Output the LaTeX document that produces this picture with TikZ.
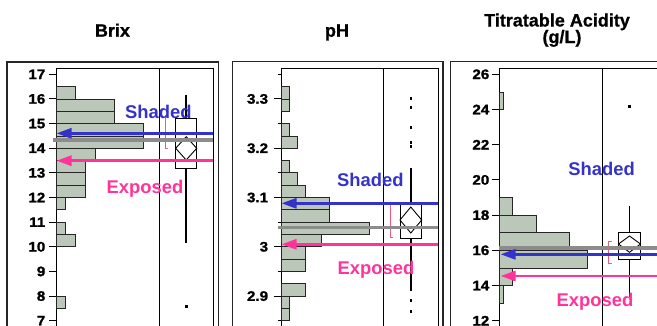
\documentclass[tikz,border=0pt]{standalone}
\usepackage{fontspec}
\setmainfont{Liberation Sans}
\newfontfamily\heavyfont[FakeBold=1.3,FakeStretch=1.1]{Liberation Sans Bold}
\newfontfamily\titlefont[FakeBold=0.8]{Liberation Sans Bold}
\usetikzlibrary{arrows.meta}
\definecolor{barfill}{RGB}{187,200,185}
\definecolor{shadeblue}{RGB}{51,51,204}
\definecolor{exppink}{RGB}{255,51,153}
\definecolor{meangray}{RGB}{140,140,140}
\definecolor{brkred}{RGB}{240,90,120}
\tikzset{
  frameline/.style={draw=black!85, line width=1.2pt},
  plotline/.style={draw=black, line width=0.9pt},
  histbar/.style={fill=barfill, draw=black!85, line width=0.8pt},
  tickline/.style={draw=black, line width=0.9pt},
  ticklabel/.style={font=\fontsize{13.8}{14}\heavyfont, anchor=east, inner sep=0pt},
  paneltitle/.style={font=\fontsize{18}{20}\titlefont, anchor=base, inner sep=0pt},
  shadearrow/.style={draw=shadeblue, line width=2.8pt, -{Triangle[length=15pt,width=10pt]}},
  exposearrow/.style={draw=exppink, line width=2.8pt, -{Triangle[length=15pt,width=10pt]}},
  meanline/.style={draw=meangray, line width=3.2pt},
  shadelabel/.style={text=shadeblue, font=\fontsize{18.4}{18.4}\selectfont\bfseries, anchor=base, inner sep=0pt},
  exposelabel/.style={text=exppink, font=\fontsize{18.4}{18.4}\selectfont\bfseries, anchor=base, inner sep=0pt},
  boxline/.style={draw=black, line width=0.9pt, fill=white},
  diamondline/.style={draw=black, line width=0.9pt},
  whiskerline/.style={draw=black, line width=2pt},
  thinwhisker/.style={draw=black, line width=1pt},
  bracketline/.style={draw=brkred, line width=0.8pt},
  outlierdot/.style={fill=black},
}
\begin{document}
\begin{tikzpicture}[x=1pt,y=-1pt]
\useasboundingbox (0,0) rectangle (657,325);
\clip (0,0) rectangle (657,325);

% ---------------- titles ----------------
\node[paneltitle] (tbrix) at (112.5,36.7) {Brix};
\node[paneltitle] (tph) at (337,36.7) {pH};
\node[paneltitle] (tta1) at (557,26.5) {Titratable Acidity};
\node[paneltitle] (tta2) at (562,43) {(g/L)};

% ================= Panel 1: Brix =================
\draw[frameline] (7,62) rectangle (218.3,345);
\draw[plotline] (56,68) rectangle (213.3,345);
\foreach \lo/\hi/\c in {16/16.5/2,15.5/16/6,15/15.5/6,14.5/15/9,14/14.5/9,13.5/14/4,13/13.5/3,12.5/13/3,12/12.5/3,11.5/12/1,10.5/11/1,10/10.5/2,7.5/8/1}{
  \path[histbar] (56,{74.3+(17-\hi)*24.64}) rectangle ({56+\c*9.75},{74.3+(17-\lo)*24.64});
}
\draw[plotline] (159,68) -- (159,345);
\foreach \v in {7,...,17}{
  \draw[tickline] (49,{74.3+(17-\v)*24.64}) -- (56,{74.3+(17-\v)*24.64});
  \node[ticklabel] (bl\v) at (45.5,{74.3+(17-\v)*24.64}) {\v};
}
% box plot
\draw[whiskerline] (186.2,94.5) -- (186.2,118.3);
\draw[whiskerline] (186.2,168.3) -- (186.2,242.7);
\draw[boxline] (175.7,118.3) rectangle (196.7,168.3);
\draw[diamondline] (186.2,136.7) -- (196.7,148.3) -- (186.2,160) -- (175.7,148.3) -- cycle;
\fill[outlierdot] (184.7,304.5) rectangle (187.7,307.5);
\draw[bracketline] (168.3,115) -- (165,115) -- (165,148.3) -- (168.3,148.3);
% lines and arrows
\draw[meanline] (53,140) -- (212.5,140);
\coordinate (bS1) at (213.3,133.3); \coordinate (bS0) at (56.5,133.3);
\coordinate (bE1) at (213.3,160.7); \coordinate (bE0) at (56.5,160.7);
\draw[shadearrow] (bS1) -- (bS0);
\draw[exposearrow] (bE1) -- (bE0);
\node[shadelabel] (bshade) at (158.3,118.3) {Shaded};
\node[exposelabel] (bexp) at (145,193.3) {Exposed};

% ================= Panel 2: pH =================
\draw[frameline] (232.3,61.7) rectangle (443,345);
\draw[plotline] (281,68.3) rectangle (438,345);
\foreach \lo/\hi/\c in {3.3/3.325/1,3.275/3.3/1,3.225/3.25/1,3.2/3.225/2,3.15/3.175/1,3.125/3.15/2,3.1/3.125/3,3.075/3.1/6,3.05/3.075/6,3.025/3.05/11,3.0/3.025/5,2.975/3.0/3,2.95/2.975/3,2.9/2.925/3,2.875/2.9/1,2.85/2.875/1}{
  \path[histbar] (281,{74.3+(3.35-\hi)*492.8}) rectangle ({281+\c*8},{74.3+(3.35-\lo)*492.8});
}
\draw[plotline] (383.3,68.3) -- (383.3,345);
\foreach \v/\t [count=\i] in {3.3/3.3,3.2/3.2,3.1/3.1,3.0/3,2.9/2.9}{
  \draw[tickline] (274,{74.3+(3.35-\v)*492.8}) -- (281,{74.3+(3.35-\v)*492.8});
  \node[ticklabel] (pl\i) at (268.3,{74.3+(3.35-\v)*492.8}) {\t};
}
\foreach \v in {3.35,3.25,3.15,3.05,2.95,2.85}{
  \draw[tickline] (277.8,{74.3+(3.35-\v)*492.8}) -- (281,{74.3+(3.35-\v)*492.8});
}
% box plot
\draw[whiskerline] (410.8,168.3) -- (410.8,204.3);
\draw[whiskerline] (410.8,238.5) -- (410.8,291);
\draw[boxline] (400,204.3) rectangle (421.7,238.5);
\draw[diamondline] (410.8,207) -- (421.7,220) -- (410.8,233) -- (400,220) -- cycle;
\foreach \yy in {98.3,107.7,127.7,142.3,146.7,300,311}{
  \fill[outlierdot] (409.5,{\yy-1.5}) rectangle (412.1,{\yy+1.5});
}
\draw[bracketline] (393.3,204.3) -- (390,204.3) -- (390,237.7) -- (393.3,237.7);
\draw[meanline] (278,227.3) -- (438,227.3);
\coordinate (pS1) at (438,203.3); \coordinate (pS0) at (281.5,203.3);
\coordinate (pE1) at (438,244.3); \coordinate (pE0) at (281.5,244.3);
\draw[shadearrow] (pS1) -- (pS0);
\draw[exposearrow] (pE1) -- (pE0);
\node[shadelabel] (pshade) at (370.3,186.7) {Shaded};
\node[exposelabel] (pexp) at (376,274) {Exposed};

% ================= Panel 3: Titratable Acidity =================
\draw[frameline] (450.7,61.7) rectangle (680,345);
\draw[plotline] (499.3,68.3) rectangle (675,345);
\foreach \lo/\hi/\w in {24/25/4,18/19/13.3,17/18/37.3,16/17/69.7,15/16/88.3,14/15/13.3,13/14/4}{
  \path[histbar] (499.3,{74.3+(26-\hi)*17.6}) rectangle ({499.3+\w},{74.3+(26-\lo)*17.6});
}
\draw[plotline] (602,68.3) -- (602,345);
\foreach \v in {12,14,...,26}{
  \draw[tickline] (491.8,{74.3+(26-\v)*17.6}) -- (499.3,{74.3+(26-\v)*17.6});
  \node[ticklabel] (al\v) at (489.5,{74.3+(26-\v)*17.6}) {\v};
}
% box plot
\draw[thinwhisker] (629.5,206) -- (629.5,232.5);
\draw[thinwhisker] (629.5,259.5) -- (629.5,296.7);
\draw[boxline] (618.5,232.5) rectangle (640.5,259.5);
\draw[diamondline] (629.5,236) -- (640.5,244) -- (629.5,252.3) -- (618.5,244) -- cycle;
\fill[outlierdot] (628,105.2) rectangle (631,108.2);
\draw[bracketline] (611.6,241) -- (608.3,241) -- (608.3,263) -- (611.6,263);
\draw[meanline] (499.3,248) -- (660,248);
\coordinate (aS1) at (660,254.3); \coordinate (aS0) at (500.5,254.3);
\coordinate (aE1) at (660,276); \coordinate (aE0) at (500.5,276);
\draw[shadearrow] (aS1) -- (aS0);
\draw[exposearrow] (aE1) -- (aE0);
\node[shadelabel] (ashade) at (601.7,175) {Shaded};
\node[exposelabel] (aexp) at (595,306) {Exposed};
\end{tikzpicture}
\end{document}
